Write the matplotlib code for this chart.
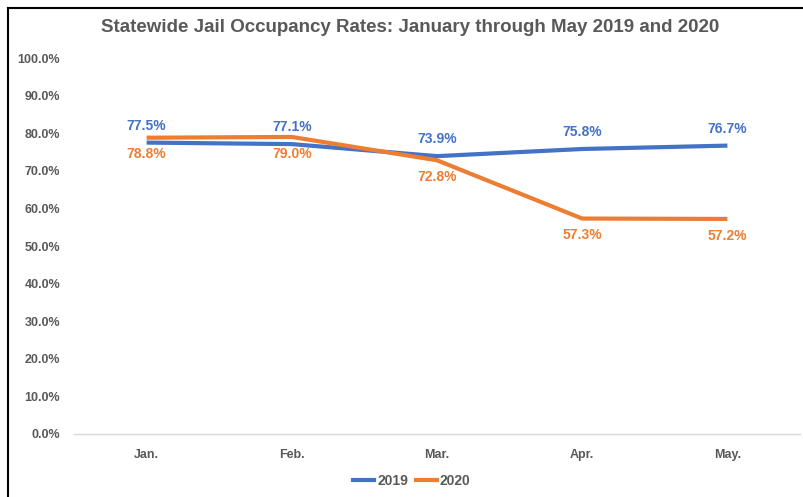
import matplotlib.pyplot as plt
from matplotlib.lines import Line2D
from matplotlib.ticker import FuncFormatter

months = ["Jan.", "Feb.", "Mar.", "Apr.", "May."]
rate_2019 = [77.5, 77.1, 73.9, 75.8, 76.7]
rate_2020 = [78.8, 79.0, 72.8, 57.3, 57.2]
y_ticks = [0, 10, 20, 30, 40, 50, 60, 70, 80, 90, 100]

blue = "#4472C4"
orange = "#ED7D31"
grey = "#595959"

plt.rcParams["font.family"] = ["Liberation Sans", "DejaVu Sans"]

fig = plt.figure(figsize=(8.04, 4.97), dpi=100)
ax = fig.add_axes([74 / 804, 63 / 497, 726 / 804, 376 / 497])

x = list(range(len(months)))
ax.plot(x, rate_2019, color=blue, linewidth=3, solid_capstyle="butt", label="2019")
ax.plot(x, rate_2020, color=orange, linewidth=3, solid_capstyle="butt", label="2020")

# data labels: 2019 above, 2020 below
for i, v in enumerate(rate_2019):
    ax.annotate(f"{v:.1f}%", (i, v), xytext=(0, 12), textcoords="offset points",
                ha="center", va="center", color=blue, fontsize=10, fontweight="bold")
for i, v in enumerate(rate_2020):
    ax.annotate(f"{v:.1f}%", (i, v), xytext=(0, -12), textcoords="offset points",
                ha="center", va="center", color=orange, fontsize=10, fontweight="bold")

ax.set_xlim(-0.5, len(months) - 0.5)
ax.set_ylim(0, 100)
ax.set_yticks(y_ticks)
ax.yaxis.set_major_formatter(FuncFormatter(lambda v, p: f"{v:.1f}%"))
ax.set_xticks(x)
ax.set_xticklabels(months)
for lbl in ax.get_xticklabels() + ax.get_yticklabels():
    lbl.set_fontweight("bold")
    lbl.set_color(grey)
    lbl.set_fontsize(9)
ax.tick_params(axis="both", length=0)
ax.tick_params(axis="y", pad=10)
ax.tick_params(axis="x", pad=11)

for side in ["top", "right", "left"]:
    ax.spines[side].set_visible(False)
ax.spines["bottom"].set_color("#D9D9D9")
ax.spines["bottom"].set_linewidth(1)

fig.text(410 / 804, 1 - 28 / 497, "Statewide Jail Occupancy Rates: January through May 2019 and 2020",
         ha="center", va="center", fontsize=13.5, color=grey, fontweight="bold")

handles = [Line2D([], [], color=blue, linewidth=3), Line2D([], [], color=orange, linewidth=3)]
fig.legend(handles, ["2019", "2020"], loc="center", bbox_to_anchor=(412 / 804, 1 - 481 / 497),
           ncol=2, frameon=False, handlelength=1.5, handletextpad=0.2, columnspacing=0.6,
           prop={"size": 10, "weight": "bold"}, labelcolor=grey)

# black frame lines on the top and left edges
fig.add_artist(Line2D([8 / 804, 1], [1 - 8 / 497, 1 - 8 / 497], color="black", linewidth=1.5,
                      transform=fig.transFigure))
fig.add_artist(Line2D([8 / 804, 8 / 804], [0, 1 - 8 / 497], color="black", linewidth=1.5,
                      transform=fig.transFigure))

fig.savefig("out.png", dpi=100)
